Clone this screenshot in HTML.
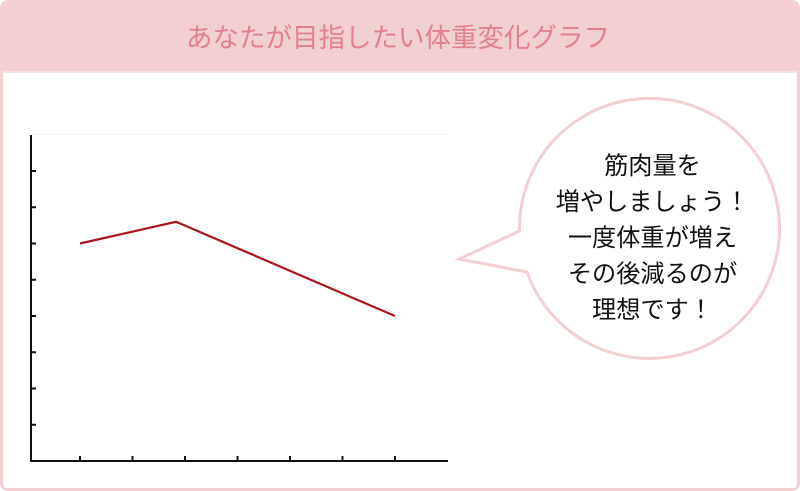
<!DOCTYPE html>
<html lang="ja">
<head>
<meta charset="utf-8">
<title>あなたが目指したい体重変化グラフ</title>
<style>
html,body{margin:0;padding:0;background:#fff;}
body{width:800px;height:491px;overflow:hidden;position:relative;font-family:"Liberation Sans","Noto Sans CJK JP",sans-serif;}
#panel{position:absolute;left:0;top:0;width:800px;height:491px;background:#f2cfd1;border-radius:8px;}
#inner{position:absolute;left:3px;top:71px;width:794px;height:417px;box-sizing:border-box;background:#fff;border-top:2px solid #f3e2e3;border-radius:0 0 4px 4px;}
#title{position:absolute;left:0;top:20px;width:796px;text-align:center;font-size:26.5px;line-height:36px;color:#e3818f;white-space:nowrap;}
svg{position:absolute;left:0;top:0;}
#bubble-text{position:absolute;left:502.5px;top:148.5px;width:300px;text-align:center;font-size:24.2px;line-height:36px;color:#111;white-space:nowrap;}
</style>
</head>
<body>
<div id="panel">
  <div id="title">あなたが目指したい体重変化グラフ</div>
  <div id="inner"></div>
</div>
<svg id="chart" width="800" height="491" viewBox="0 0 800 491">
  <line x1="31" y1="134.5" x2="448" y2="134.5" stroke="#f5f5f5" stroke-width="1"/>
  <g id="axes"></g>
  <g id="series"></g>
  <path d="M459 259 L519.5 231 A130 130 0 1 1 527 272 Z" fill="#fff" stroke="#f2cfd1" stroke-width="3" stroke-linejoin="miter"/>
</svg>
<div id="bubble-text">筋肉量を<br>増やしましょう！<br>一度体重が増え<br>その後減るのが<br>理想です！</div>
<script>
const xTicks = [0, 1, 2, 3, 4, 5, 6];
const yTicks = [1, 2, 3, 4, 5, 6, 7, 8];
const seriesX = [0, 1.83, 6];
const seriesY = [6, 6.6, 4];

function xScale(v) { return 80 + v * 52.5; }
function yScale(v) { return 461 - v * 36.25; }

const NS = 'http://www.w3.org/2000/svg';
const axes = document.getElementById('axes');
const seriesGroup = document.getElementById('series');

function addLine(parent, x1, y1, x2, y2, color, width) {
  const l = document.createElementNS(NS, 'line');
  l.setAttribute('x1', x1);
  l.setAttribute('y1', y1);
  l.setAttribute('x2', x2);
  l.setAttribute('y2', y2);
  l.setAttribute('stroke', color);
  l.setAttribute('stroke-width', width);
  parent.appendChild(l);
  return l;
}

const yAxis = addLine(axes, 31, 135, 31, 462, '#111', 2);



const xAxis = addLine(axes, 30, 461, 448, 461, '#111', 2);



yTicks.forEach(function (t) {
  const tick = addLine(axes, 31, yScale(t), 36, yScale(t), '#111', 2);
  
  
});

xTicks.forEach(function (t) {
  const tick = addLine(axes, xScale(t), 456, xScale(t), 461, '#111', 2);
  
  
});

const pts = seriesX.map(function (x, i) { return xScale(x) + ',' + yScale(seriesY[i]); }).join(' ');
const poly = document.createElementNS(NS, 'polyline');
poly.setAttribute('points', pts);
poly.setAttribute('fill', 'none');
poly.setAttribute('stroke', '#a8161c');
poly.setAttribute('stroke-width', '2.2');


seriesGroup.appendChild(poly);
</script>
</body>
</html>
